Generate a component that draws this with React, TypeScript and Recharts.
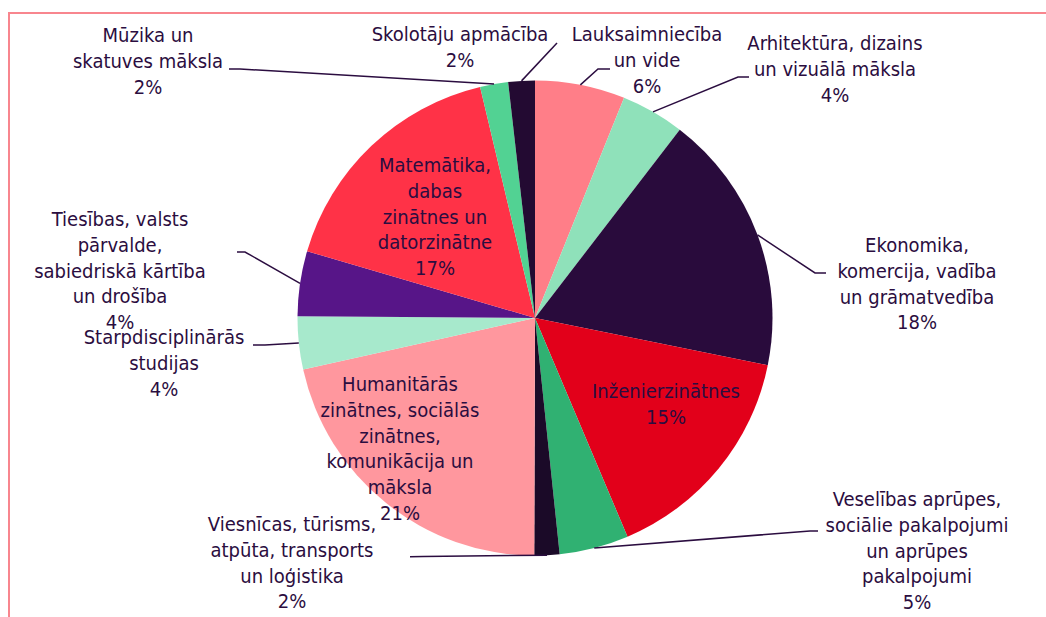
import { Cell, Pie, PieChart } from "recharts";

// study fields, clockwise from 12 o'clock
const categories = [
  "Lauksaimniecība\nun vide",
  "Arhitektūra, dizains\nun vizuālā māksla",
  "Ekonomika,\nkomercija, vadība\nun grāmatvedība",
  "Inženierzinātnes",
  "Veselības aprūpes,\nsociālie pakalpojumi\nun aprūpes\npakalpojumi",
  "Viesnīcas, tūrisms,\natpūta, transports\nun loģistika",
  "Humanitārās\nzinātnes, sociālās\nzinātnes,\nkomunikācija un\nmāksla",
  "Starpdisciplinārās\nstudijas",
  "Tiesības, valsts\npārvalde,\nsabiedriskā kārtība\nun drošība",
  "Matemātika,\ndabas\nzinātnes un\ndatorzinātne",
  "Mūzika un\nskatuves māksla",
  "Skolotāju apmācība",
];

const shares = [6.1, 4.3, 17.7, 15.4, 4.7, 1.7, 21.4, 3.6, 4.4, 16.7, 1.9, 1.8];

const sliceColors = [
  "#FF7E88",
  "#8FE1BA",
  "#290B3C",
  "#E2001A",
  "#30B172",
  "#1B0A28",
  "#FF979E",
  "#A7E9CC",
  "#571588",
  "#FF3247",
  "#52D293",
  "#230A32",
];

const TEXT = "#2B0D40";
const LINE_H = 25.8;
const RAD = Math.PI / 180;

// label placement relative to the pie centre (tx/ty = first line centre)
type Spot = { tx: number; ty: number; elbow?: [number, number]; end?: [number, number] };
const labelSpots: Spot[] = [
  { tx: 112, ty: -284, elbow: [63, -249], end: [75, -249] },
  { tx: 300, ty: -275, elbow: [203, -241], end: [214, -241] },
  { tx: 382, ty: -73, elbow: [280, -45], end: [291, -45] },
  { tx: 131, ty: 73 },
  { tx: 382, ty: 181, elbow: [275, 213], end: [283, 213] },
  { tx: -243, ty: 206, elbow: [-112, 238.5], end: [-125, 238.7] },
  { tx: -135, ty: 66 },
  { tx: -371, ty: 19, elbow: [-270, 27], end: [-282, 27] },
  { tx: -415, ty: -99, elbow: [-290, -66], end: [-298, -66] },
  { tx: -100, ty: -153 },
  { tx: -387, ty: -283, elbow: [-295, -249], end: [-306, -249] },
  { tx: -75, ty: -284, elbow: [22, -275], end: [22, -275] },
];

const data = categories.map((name, i) => ({ name, value: shares[i] }));

function renderLabel(props: any) {
  const { cx, cy, midAngle, outerRadius, percent, index } = props;
  const spot = labelSpots[index];
  const lines = [...categories[index].split("\n"), `${Math.round(percent * 100)}%`];
  const x = cx + spot.tx;
  let leader = null;
  if (spot.elbow && spot.end) {
    const ex = cx + outerRadius * Math.cos(-midAngle * RAD);
    const ey = cy + outerRadius * Math.sin(-midAngle * RAD);
    const pts = `${ex},${ey} ${cx + spot.elbow[0]},${cy + spot.elbow[1]} ${cx + spot.end[0]},${cy + spot.end[1]}`;
    leader = <polyline points={pts} fill="none" stroke={TEXT} strokeWidth={1.5} />;
  }
  return (
    <g key={`lbl-${index}`}>
      {leader}
      <text
        x={x}
        y={cy + spot.ty}
        textAnchor="middle"
        dominantBaseline="central"
        fill={TEXT}
        style={{ fontFamily: "'DejaVu Sans Condensed', 'DejaVu Sans', sans-serif", fontStretch: "condensed", fontSize: 20 }}
      >
        {lines.map((line, i) => (
          <tspan key={i} x={x} y={cy + spot.ty + i * LINE_H}>
            {line}
          </tspan>
        ))}
      </text>
    </g>
  );
}

export default function App() {
  return (
    <div
      style={{
        position: "absolute",
        left: 8,
        top: 12,
        width: 1038,
        height: 605,
        boxSizing: "border-box",
        borderTop: "2px solid #F8868E",
        borderLeft: "2px solid #F8868E",
        overflow: "hidden",
        background: "#fff",
      }}
    >
      <PieChart width={1036} height={603}>
        <Pie
          data={data}
          dataKey="value"
          nameKey="name"
          cx={520}
          cy={299}
          outerRadius={237.5}
          startAngle={90}
          endAngle={-270}
          stroke="none"
          label={renderLabel}
          labelLine={false}
          isAnimationActive={false}
        >
          {data.map((entry, i) => (
            <Cell key={entry.name} fill={sliceColors[i]} />
          ))}
        </Pie>
      </PieChart>
    </div>
  );
}
